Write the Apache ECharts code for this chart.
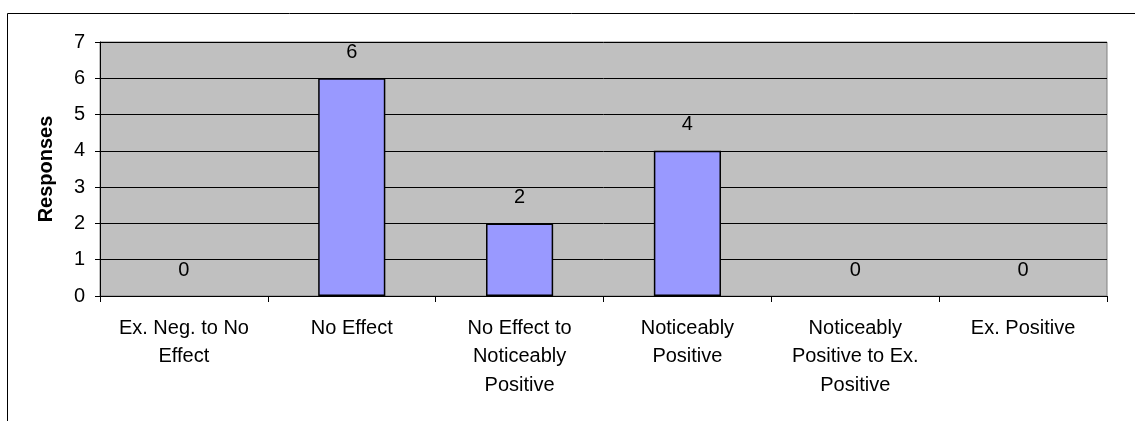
<!DOCTYPE html>
<html><head><meta charset="utf-8">
<script src="https://cdn.jsdelivr.net/npm/echarts@6/dist/echarts.min.js"></script>
<style>html,body{margin:0;padding:0;background:#fff}#c{width:1135px;height:421px}</style>
</head><body><div id="c"></div>
<script>
var categories = ["Ex. Neg. to No\nEffect", "No Effect", "No Effect to\nNoticeably\nPositive", "Noticeably\nPositive", "Noticeably\nPositive to Ex.\nPositive", "Ex. Positive"];
var responses = [0, 6, 2, 4, 0, 0];
var yTicks = [0, 1, 2, 3, 4, 5, 6, 7];
var yTitle = "Responses";

var chart = echarts.init(document.getElementById('c'));
var F = '"Liberation Sans", Arial, sans-serif';
chart.setOption({
  animation: false,
  graphic: [{type:'rect', shape:{x:7.5,y:13.5,width:1140,height:420}, style:{fill:'none',stroke:'#000',lineWidth:1}, z:-1}],
  grid: {left:100, right:28, top:42, bottom:125, show:true, backgroundColor:'#C0C0C0', borderColor:'#808080', borderWidth:1},
  xAxis: {
    type:'category', data:categories,
    axisLine:{show:true, lineStyle:{color:'#000', width:1}},
    axisTick:{show:true, length:6, inside:false, lineStyle:{color:'#000'}},
    axisLabel:{fontFamily:F, fontSize:20, color:'#000', margin:18, lineHeight:28.5, interval:0},
    splitLine:{show:false}
  },
  yAxis: {
    type:'value', min:0, max:7, interval:1,
    name:yTitle, nameLocation:'middle', nameGap:44,
    nameTextStyle:{fontFamily:F, fontSize:20, fontWeight:'bold', color:'#000'},
    axisLine:{show:true, lineStyle:{color:'#000'}},
    axisTick:{show:true, length:5, lineStyle:{color:'#000'}},
    axisLabel:{fontFamily:F, fontSize:20, color:'#000', margin:15, formatter:function(v){return yTicks.indexOf(v)>=0?String(v):'';}},
    splitLine:{show:true, lineStyle:{color:'#000', width:1}}
  },
  series: [{
    type:'bar', barCategoryGap:'60%',
    data: responses.map(function(v){ return v === 0 ? {value:v, itemStyle:{borderWidth:0}} : v; }),
    itemStyle:{color:'#9999FF', borderColor:'#000', borderWidth:1.5},
    label:{show:true, position:'top', distance:16, fontFamily:F, fontSize:20, color:'#000'}
  }]
});
</script></body></html>
